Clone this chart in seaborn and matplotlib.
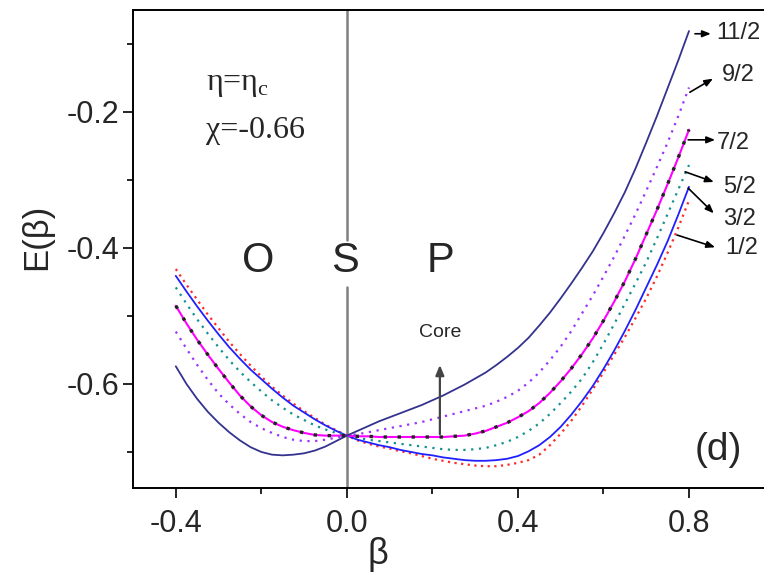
import matplotlib
matplotlib.use("Agg")
import matplotlib.pyplot as plt
from matplotlib.ticker import MultipleLocator, FormatStrFormatter
import seaborn as sns

# beta grid and energy curves E(beta)
beta = [-0.400, -0.375, -0.350, -0.325, -0.300, -0.275, -0.250, -0.225, -0.200,
        -0.175, -0.150, -0.125, -0.100, -0.075, -0.050, -0.025, 0.000, 0.025,
        0.050, 0.075, 0.100, 0.125, 0.150, 0.175, 0.200, 0.225, 0.250, 0.275,
        0.300, 0.325, 0.350, 0.375, 0.400, 0.425, 0.450, 0.475, 0.500, 0.525,
        0.550, 0.575, 0.600, 0.625, 0.650, 0.675, 0.700, 0.725, 0.750, 0.775,
        0.800]

e_1_2 = [-0.431, -0.454, -0.476, -0.498, -0.518, -0.538, -0.556, -0.573, -0.589,
         -0.604, -0.617, -0.629, -0.640, -0.650, -0.660, -0.668, -0.676, -0.683,
         -0.688, -0.692, -0.695, -0.699, -0.702, -0.706, -0.710, -0.713, -0.716,
         -0.718, -0.720, -0.721, -0.721, -0.719, -0.716, -0.712, -0.704, -0.690,
         -0.673, -0.654, -0.632, -0.608, -0.583, -0.557, -0.531, -0.503, -0.474,
         -0.442, -0.407, -0.370, -0.330]
e_3_2 = [-0.441, -0.464, -0.486, -0.507, -0.527, -0.546, -0.563, -0.579, -0.593,
         -0.607, -0.620, -0.632, -0.642, -0.652, -0.661, -0.669, -0.676, -0.682,
         -0.686, -0.690, -0.693, -0.697, -0.700, -0.703, -0.705, -0.708, -0.710,
         -0.712, -0.713, -0.713, -0.712, -0.710, -0.706, -0.699, -0.690, -0.678,
         -0.663, -0.645, -0.625, -0.603, -0.578, -0.551, -0.522, -0.491, -0.458,
         -0.425, -0.390, -0.351, -0.310]
e_5_2 = [-0.458, -0.482, -0.505, -0.526, -0.546, -0.565, -0.582, -0.597, -0.611,
         -0.624, -0.635, -0.645, -0.653, -0.661, -0.667, -0.672, -0.676, -0.679,
         -0.682, -0.684, -0.686, -0.688, -0.690, -0.692, -0.694, -0.696, -0.697,
         -0.697, -0.696, -0.694, -0.690, -0.685, -0.678, -0.669, -0.658, -0.644,
         -0.628, -0.611, -0.592, -0.568, -0.541, -0.512, -0.482, -0.452, -0.421,
         -0.386, -0.350, -0.314, -0.278]
e_7_2 = [-0.485, -0.511, -0.535, -0.557, -0.578, -0.598, -0.617, -0.633, -0.646,
         -0.656, -0.663, -0.668, -0.672, -0.675, -0.676, -0.676, -0.676, -0.677,
         -0.677, -0.678, -0.678, -0.678, -0.678, -0.678, -0.678, -0.678, -0.677,
         -0.676, -0.673, -0.669, -0.663, -0.657, -0.649, -0.640, -0.628, -0.613,
         -0.596, -0.577, -0.556, -0.533, -0.507, -0.479, -0.449, -0.416, -0.380,
         -0.344, -0.306, -0.267, -0.226]
e_9_2 = [-0.523, -0.548, -0.572, -0.594, -0.614, -0.630, -0.644, -0.656, -0.665,
         -0.672, -0.678, -0.682, -0.684, -0.684, -0.682, -0.679, -0.676, -0.674,
         -0.671, -0.668, -0.665, -0.662, -0.659, -0.656, -0.652, -0.648, -0.644,
         -0.640, -0.636, -0.632, -0.626, -0.619, -0.610, -0.598, -0.583, -0.565,
         -0.545, -0.522, -0.496, -0.470, -0.442, -0.413, -0.382, -0.350, -0.316,
         -0.281, -0.245, -0.206, -0.164]
e_11_2 = [-0.574, -0.600, -0.622, -0.641, -0.657, -0.671, -0.683, -0.693, -0.700,
          -0.704, -0.705, -0.704, -0.702, -0.698, -0.692, -0.684, -0.676, -0.669,
          -0.662, -0.655, -0.649, -0.643, -0.637, -0.631, -0.624, -0.617, -0.609,
          -0.601, -0.592, -0.583, -0.572, -0.560, -0.547, -0.532, -0.514, -0.495,
          -0.474, -0.452, -0.429, -0.405, -0.378, -0.349, -0.318, -0.283, -0.245,
          -0.206, -0.165, -0.124, -0.081]
# the core curve lies on top of the 7/2 curve
e_core = e_7_2

spin_labels = ["1/2", "3/2", "5/2", "7/2", "9/2", "11/2"]
region_labels = ["O", "S", "P"]
x_ticks = [-0.4, 0.0, 0.4, 0.8]
y_ticks = [-0.6, -0.4, -0.2]

sns.set_style("ticks")
plt.rcParams["font.family"] = ["Liberation Sans", "DejaVu Sans"]
plt.rcParams["axes.unicode_minus"] = False

fig = plt.figure(figsize=(7.64, 5.76), dpi=100)
ax = fig.add_axes([0.1741, 0.1528, 0.8397, 0.8299])

# gray line at beta = 0, broken where the "S" sits
ax.axvline(0, ymin=0.519, ymax=1, color="#808080", lw=1.8, zorder=1)
ax.axvline(0, ymin=0, ymax=0.421, color="#808080", lw=1.8, zorder=1)

# (series, color, linestyle, width)
styles = [
    (e_1_2, "#ff2a2a", (0, (1, 2)), 1.6),
    (e_3_2, "#2020ff", "-", 1.3),
    (e_5_2, "#139090", (0, (1, 2.5)), 1.6),
    (e_7_2, "#ff00ff", "-", 1.5),
    (e_9_2, "#9933ff", (0, (1, 2.5)), 1.6),
    (e_11_2, "#33338f", "-", 1.3),
]
for vals, col, ls, lw in styles:
    sns.lineplot(x=beta, y=vals, ax=ax, color=col, linestyle=ls, lw=lw,
                 zorder=3)
sns.lineplot(x=beta, y=e_core, ax=ax, color="#222222", linestyle=(0, (1, 3.2)),
             lw=2.4, zorder=4)

ax.set_xlim(-0.5, 1.0)
ax.set_ylim(-0.753, -0.05)
ax.set_xticks(x_ticks)
ax.set_yticks(y_ticks)
ax.xaxis.set_minor_locator(MultipleLocator(0.2))
ax.yaxis.set_minor_locator(MultipleLocator(0.1))
ax.xaxis.set_major_formatter(FormatStrFormatter("%.1f"))
ax.yaxis.set_major_formatter(FormatStrFormatter("%.1f"))
ax.tick_params(which="major", direction="out", length=7, width=1.2,
               color="black", pad=6)
ax.tick_params(which="minor", direction="out", length=4, width=1.2,
               color="black")
ax.tick_params(axis="x", labelsize=22, pad=8)
ax.tick_params(axis="y", labelsize=22, pad=3)
for lab in ax.get_xticklabels():
    lab.set_family(["Liberation Sans Narrow", "Liberation Sans"])
for side in ["left", "bottom", "top", "right"]:
    ax.spines[side].set_color("black")
    ax.spines[side].set_linewidth(1.4)
ax.set_xlabel("")
ax.set_ylabel("")

fig.text(37 / 764, 1 - 237 / 576, "E(β)", rotation=90, ha="center",
         va="center", fontsize=25)
fig.text(378 / 764, 1 - 554 / 576, "β", ha="center", va="center",
         fontsize=26)

# parameter text
serif = ["Liberation Serif", "DejaVu Serif"]
ax.text(-0.33, -0.168, r"η=η$_\mathregular{c}$", family=serif, fontsize=23,
        va="baseline")
ax.text(-0.33, -0.238, "χ=-0.66", family=serif, fontsize=23, va="baseline")

# O / S / P regions
for lab, xpos in zip(region_labels, [-0.208, -0.005, 0.218]):
    ax.text(xpos, -0.435, lab, fontsize=30, ha="center", va="baseline")
ax.text(0.868, -0.712, "(d)", fontsize=28, ha="center", va="baseline")

# core arrow
ax.annotate("", xy=(0.2175, -0.568), xytext=(0.2175, -0.678),
            arrowprops=dict(arrowstyle="-|>,head_length=0.6,head_width=0.25",
                            color="#444444", lw=1.6))
ax.text(0.2175, -0.525, "Core", fontsize=14, ha="center", va="center")

# spin labels with arrows
arrows = [
    ((0.772, -0.381), (0.861, -0.399), (0.884, -0.400)),
    ((0.798, -0.312), (0.858, -0.349), (0.880, -0.357)),
    ((0.791, -0.288), (0.858, -0.303), (0.880, -0.310)),
    ((0.798, -0.241), (0.861, -0.241), (0.866, -0.246)),
    ((0.802, -0.171), (0.856, -0.151), (0.877, -0.146)),
    ((0.814, -0.085), (0.851, -0.085), (0.863, -0.084)),
]
for lab, (start, end, tpos) in zip(spin_labels, arrows):
    ax.annotate("", xy=end, xytext=start,
                arrowprops=dict(arrowstyle="-|>,head_length=0.5,head_width=0.2",
                                color="black", lw=1.2, shrinkA=0, shrinkB=0))
    ax.text(tpos[0], tpos[1], lab, fontsize=17, ha="left", va="center")

fig.savefig("out.png", dpi=100)
